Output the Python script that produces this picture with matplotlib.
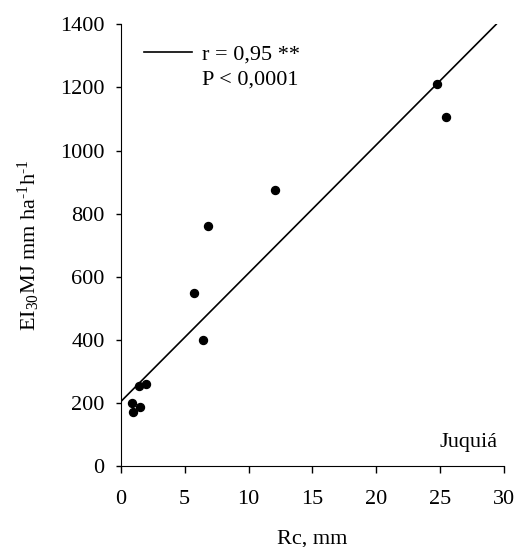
import numpy as np
import matplotlib.pyplot as plt

plt.rcParams['font.family'] = ['Liberation Serif', 'DejaVu Serif']
plt.rcParams['mathtext.fontset'] = 'custom'
plt.rcParams['mathtext.rm'] = 'Liberation Serif'
plt.rcParams['mathtext.it'] = 'Liberation Serif:italic'
plt.rcParams['font.size'] = 16

# data
rc = [0.94, 0.86, 1.51, 1.46, 1.96, 5.77, 6.47, 6.84, 12.1, 24.77, 25.47]
ei30 = [172, 199, 188, 254, 260, 547, 400, 760, 874, 1211, 1105]

# regression line (intercept, slope)
fit_a = 204
fit_b = 40.7

fig = plt.figure(figsize=(5.17, 5.47), dpi=100)
ax = fig.add_axes([0.2335, 0.148, 0.7415, 0.8076])

ax.scatter(rc, ei30, s=33, color='black', zorder=3)
xl = np.array([0, (1400 - fit_a) / fit_b])
ax.plot(xl, fit_a + fit_b * xl, color='black', lw=1.2, label='r = 0,95 **')

ax.set_xlim(0, 30)
ax.set_ylim(0, 1400)
ax.set_xticks(range(0, 31, 5))
ax.set_yticks(range(0, 1401, 200))
ax.spines['top'].set_visible(False)
ax.spines['right'].set_visible(False)
ax.tick_params(axis='x', direction='out', length=5, width=1, pad=12)
ax.tick_params(axis='y', direction='out', length=3.6, width=1, pad=8)
ax.set_xlabel('Rc, mm')
ax.xaxis.set_label_coords(0.5, -0.143)
ax.set_ylabel(r'EI$_{30}$MJ mm ha$^{\text{-}1}$h$^{\text{-}1}$')
ax.yaxis.set_label_coords(-0.205, 0.5)

leg = ax.legend(loc='center left', bbox_to_anchor=(0.061, 0.931), frameon=False,
                handlelength=2.15, handletextpad=0.45, borderpad=0,
                borderaxespad=0)
ax.text(0.211, 0.8626, 'P < 0,0001', transform=ax.transAxes,
        va='baseline', ha='left')
ax.text(0.982, 0.0437, 'Juquiá', transform=ax.transAxes,
        ha='right', va='baseline')

plt.savefig('out.png', dpi=100)
